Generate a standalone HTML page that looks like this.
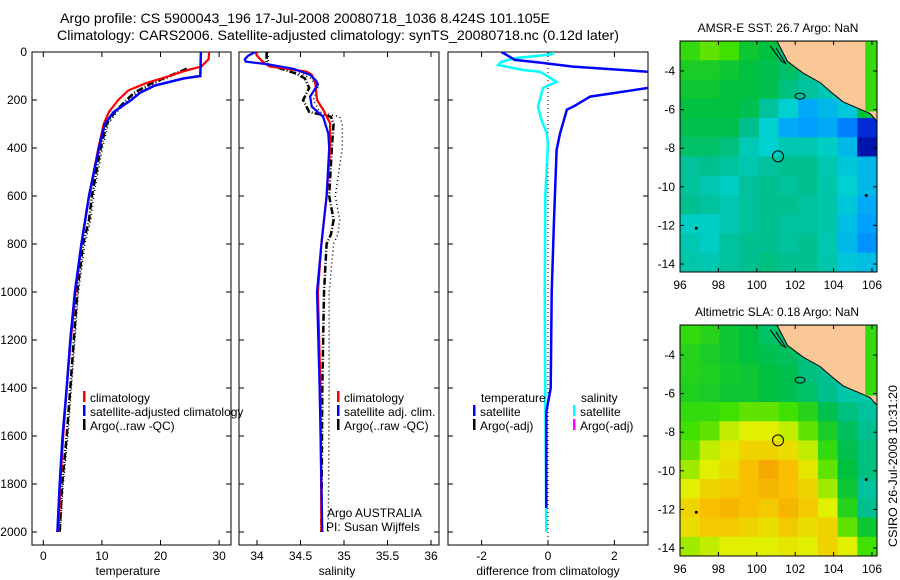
<!DOCTYPE html>
<html><head><meta charset="utf-8"><style>
html,body{margin:0;padding:0;background:#fff;}
svg{display:block;font-family:"Liberation Sans",sans-serif;}
</style></head><body>
<svg id="fig" width="900" height="580" viewBox="0 0 900 580" xmlns="http://www.w3.org/2000/svg">
<text x="60" y="23" font-size="14" textLength="490" lengthAdjust="spacingAndGlyphs">Argo profile: CS 5900043_196 17-Jul-2008 20080718_1036 8.424S 101.105E</text>
<text x="57" y="40" font-size="14" textLength="562" lengthAdjust="spacingAndGlyphs">Climatology: CARS2006. Satellite-adjusted climatology: synTS_20080718.nc (0.12d later)</text>
<text x="778" y="32" font-size="12" text-anchor="middle">AMSR-E SST: 26.7 Argo: NaN</text>
<text x="777" y="316" font-size="12" text-anchor="middle">Altimetric SLA: 0.18 Argo: NaN</text>
<text x="128" y="575" font-size="12" text-anchor="middle">temperature</text>
<text x="337" y="575" font-size="12" text-anchor="middle">salinity</text>
<text x="548" y="575" font-size="12" text-anchor="middle">difference from climatology</text>
<text transform="translate(897,547) rotate(-90)" font-size="12" textLength="162" lengthAdjust="spacingAndGlyphs">CSIRO 26-Jul-2008 10:31:20</text>
<text x="327" y="517" font-size="12">Argo AUSTRALIA</text>
<text x="326" y="531" font-size="12">PI: Susan Wijffels</text>
</svg>
<script>
// ---- data ----
const depthTicks=[0,200,400,600,800,1000,1200,1400,1600,1800,2000];
const tempTicks=[0,10,20,30];
const salTicks=[34,34.5,35,35.5,36];
const salTickLabels=['34','34.5','35','35.5','36'];
const diffTicks=[-2,0,2];
const tClimDepth=[0,30,60,80,100,130,160,200,250,300,400,600,800,1000,1200,1400,1600,1800,2000];
const tClimVal=[28.3,28.2,27,24,21.5,17.5,14.5,12.8,11.2,10.3,9.4,7.8,6.5,5.5,4.7,4.0,3.4,2.9,2.6];
const tSatDepth=[0,100,110,140,170,200,250,300,400,600,800,1000,1200,1400,1600,1800,2000];
const tSatVal=[26.9,26.8,24,19,16.5,15,12,10.5,9.5,7.8,6.5,5.4,4.6,4.0,3.3,2.8,2.4];
const tArgoDepth=[70,100,130,170,200,250,300,400,600,700,800,1000,1400,1600,1800,2000];
const tArgoVal=[24.5,21.5,18.5,15.5,14.2,12.2,10.8,9.8,8.3,7.8,6.8,5.8,4.6,4.0,3.2,2.8];
const tArgoRawVal=[25,22,19,16,14.6,12.6,11.1,10.1,8.6,8.1,7.1,6.0,4.8,4.2,3.4,2.9];
const sClimDepth=[0,15,35,50,61,70,82,95,130,200,240,297,400,600,800,1000,1400,2000];
const sClimVal=[33.98,34.0,34.05,34.1,34.15,34.35,34.57,34.63,34.67,34.69,34.76,34.84,34.84,34.80,34.74,34.70,34.73,34.74];
const sSatDepth=[0,15,30,40,50,70,95,120,135,186,228,270,340,400,600,800,1000,1400,2000];
const sSatVal=[33.98,33.9,33.86,33.87,34.1,34.42,34.61,34.68,34.7,34.61,34.63,34.76,34.82,34.83,34.80,34.74,34.69,34.72,34.75];
const sArgoDepth=[0,50,90,110,150,200,250,270,300,400,600,700,760,800,1000,1400,2000];
const sArgoVal=[34.11,34.11,34.45,34.55,34.6,34.53,34.6,34.85,34.88,34.86,34.83,34.88,34.85,34.8,34.77,34.75,34.74];
const sArgoRawDepth=[0,50,90,110,150,200,250,270,300,400,600,700,760,800,1000,1400,2000];
const sArgoRawVal=[34.13,34.13,34.5,34.62,34.7,34.65,34.72,34.95,34.98,34.98,34.9,34.95,34.93,34.88,34.83,34.83,34.82];
const dTempDepth=[0,20,33,45,61,82,100,130,150,186,228,240,340,408,700,1000,1400,1500,1900];
const dTempVal=[-1.4,-1.15,-1.0,-0.2,0.75,3.0,5.0,4.0,3.0,1.27,0.76,0.57,0.36,0.26,0.18,0.11,0.08,-0.05,-0.05];
const dSalDepth=[0,10,25,40,54,75,82,124,150,228,283,338,380,600,1000,1500,2000];
const dSalVal=[0.17,0.1,-0.95,-1.4,-1.5,-0.75,-0.24,0.26,-0.15,-0.3,-0.2,-0.04,0.0,-0.08,-0.1,-0.08,-0.05];
const lonTicks=[96,98,100,102,104,106];
const latTicks=[-4,-6,-8,-10,-12,-14];
const sstGrid=[
[.68,.72,.70,.62,.60,.50,.50,.50,.60,.70],
[.64,.64,.62,.60,.58,.55,.50,.50,.55,.68],
[.62,.62,.60,.60,.58,.52,.48,.45,.48,.65],
[.60,.60,.60,.58,.48,.40,.32,.35,.38,.60],
[.58,.58,.58,.50,.40,.32,.30,.32,.25,.10],
[.55,.55,.52,.44,.40,.45,.45,.42,.35,.05],
[.48,.50,.48,.45,.48,.50,.50,.45,.38,.35],
[.48,.45,.42,.48,.50,.48,.50,.46,.40,.35],
[.50,.48,.45,.48,.50,.50,.48,.46,.38,.32],
[.42,.42,.45,.48,.50,.48,.48,.46,.36,.30],
[.45,.42,.48,.50,.50,.48,.50,.45,.35,.28],
[.46,.45,.48,.50,.52,.50,.50,.46,.38,.36]];
const slaGrid=[
[.68,.66,.62,.60,.55,.52,.50,.50,.55,.65],
[.66,.64,.62,.60,.58,.56,.52,.50,.50,.60],
[.66,.65,.63,.62,.60,.58,.52,.50,.48,.55],
[.65,.64,.62,.62,.60,.58,.55,.50,.46,.46],
[.68,.68,.70,.72,.72,.70,.66,.58,.52,.48],
[.70,.72,.78,.80,.80,.78,.72,.64,.56,.50],
[.72,.78,.82,.86,.86,.84,.78,.68,.58,.52],
[.76,.80,.84,.90,.95,.90,.82,.72,.60,.52],
[.80,.86,.88,.90,.92,.90,.86,.76,.62,.48],
[.86,.90,.92,.90,.88,.92,.88,.80,.66,.50],
[.84,.88,.88,.86,.84,.88,.84,.86,.72,.62],
[.76,.78,.80,.80,.80,.82,.80,.86,.80,.70]];
const landLon=[101.05,101.6,102.4,103.3,104.0,104.5,105.2,105.9,106.26,106.26];
const landLat=[-2.45,-3.5,-4.1,-4.6,-5.2,-5.6,-5.9,-6.2,-6.6,-2.45];
const argoLon=101.105, argoLat=-8.424;

// ---- helpers ----
const NS='http://www.w3.org/2000/svg';
const svg=document.getElementById('fig');
function mk(tag,attrs,parent){const e=document.createElementNS(NS,tag);for(const k in attrs)e.setAttribute(k,attrs[k]);(parent||svg).appendChild(e);return e;}
const yD=d=>52+d*0.24;
const p1x=t=>43.3+t*5.86;
const p2x=s=>257+(s-34)*87;
const p3x=v=>548+v*33.2;
const panels=[{x0:32,x1:231,fx:p1x,ticks:tempTicks,labels:tempTicks.map(String),name:'temperature'},
{x0:239,x1:439,fx:p2x,ticks:salTicks,labels:salTickLabels,name:'salinity'},
{x0:448,x1:648,fx:p3x,ticks:diffTicks,labels:['-2','0','2'],name:'difference'}];
const yTop=52,yBot=545;

// clip paths
const defs=mk('defs',{});
panels.forEach((p,i)=>{const c=mk('clipPath',{id:'clip'+i},defs);mk('rect',{x:p.x0,y:yTop,width:p.x1-p.x0,height:yBot-yTop},c);});

function line(xs,ds,fx,color,w,dash,clip,name){
  const pts=xs.map((v,i)=>fx(v).toFixed(1)+','+yD(ds[i]).toFixed(1)).join(' ');
  const el=mk('polyline',{points:pts,fill:'none',stroke:color,'stroke-width':w,'clip-path':'url(#'+clip+')'});
  if(dash)el.setAttribute('stroke-dasharray',dash);
  
  
}

panels.forEach((p,i)=>{
  const fr=mk('rect',{x:p.x0,y:yTop,width:p.x1-p.x0,height:yBot-yTop,fill:'none',stroke:'#000','stroke-width':1});
  
  
  depthTicks.forEach(d=>{
    mk('line',{x1:p.x0,x2:p.x0+5,y1:yD(d),y2:yD(d),stroke:'#000'});
    mk('line',{x1:p.x1,x2:p.x1-5,y1:yD(d),y2:yD(d),stroke:'#000'});
    if(i===0){const t=mk('text',{x:27,y:yD(d)+4,'font-size':12,'text-anchor':'end'});t.textContent=d;
      
      }
  });
  p.ticks.forEach((v,j)=>{
    const x=p.fx(v);
    mk('line',{x1:x,x2:x,y1:yBot,y2:yBot-5,stroke:'#000'});
    mk('line',{x1:x,x2:x,y1:yTop,y2:yTop+5,stroke:'#000'});
    const t=mk('text',{x:x,y:yBot+15,'font-size':12,'text-anchor':'middle'});t.textContent=p.labels[j];
    
    
  });
});

// panel 1
line(tArgoRawVal,tArgoDepth,p1x,'#000',1.5,'1,3','clip0','temp-argo-raw-line');
line(tArgoVal,tArgoDepth,p1x,'#000',2.5,'7,2,1,2','clip0','temp-argo-line');
line(tClimVal,tClimDepth,p1x,'#f00',2.2,null,'clip0','temp-climatology-line');
line(tSatVal,tSatDepth,p1x,'#00f',2.5,null,'clip0','temp-satellite-line');
// panel 2
line(sArgoRawVal,sArgoRawDepth,p2x,'#000',1.5,'1,3','clip1','sal-argo-raw-line');
line(sArgoVal,sArgoDepth,p2x,'#000',2.5,'7,2,1,2','clip1','sal-argo-line');
line(sClimVal,sClimDepth,p2x,'#f00',2.2,null,'clip1','sal-climatology-line');
line(sSatVal,sSatDepth,p2x,'#00f',2.2,null,'clip1','sal-satellite-line');
// panel 3
const zl=mk('line',{x1:p3x(0),x2:p3x(0),y1:yTop,y2:yBot,stroke:'#000','stroke-dasharray':'1,3'});


line(dSalVal,dSalDepth,p3x,'#0ff',2.5,null,'clip2','sal-diff-satellite-line');
line(dTempVal,dTempDepth,p3x,'#00f',2.5,null,'clip2','temp-diff-satellite-line');

// legends
function legend(x,y,color,label,name){
  const b=mk('rect',{x:x,y:y-11,width:2.5,height:11,fill:color});
  
  
  const t=mk('text',{x:x+7,y:y,'font-size':12});t.textContent=label;
  
  
}
legend(83,402,'#f00','climatology','legend-temp-climatology');
legend(83,416,'#00f','satellite-adjusted climatology','legend-temp-satellite');
legend(83,430,'#000','Argo(..raw -QC)','legend-temp-argo');
legend(337,402,'#f00','climatology','legend-sal-climatology');
legend(337,416,'#00f','satellite adj. clim.','legend-sal-satellite');
legend(337,430,'#000','Argo(..raw -QC)','legend-sal-argo');
{const t=mk('text',{x:481,y:402,'font-size':12});t.textContent='temperature';}
{const t=mk('text',{x:581,y:402,'font-size':12});t.textContent='salinity';}
legend(473,416,'#00f','satellite','legend-diff-temp-satellite');
legend(473,430,'#000','Argo(-adj)','legend-diff-temp-argo');
legend(573,416,'#0ff','satellite','legend-diff-sal-satellite');
legend(573,430,'#f0f','Argo(-adj)','legend-diff-sal-argo');

// colormap
const cmStops=[[0,[0,0,128]],[0.15,[0,64,255]],[0.3,[0,160,255]],[0.4,[0,208,208]],[0.5,[0,192,144]],[0.6,[0,192,64]],[0.7,[64,224,0]],[0.8,[224,240,0]],[0.9,[248,192,0]],[1,[240,144,0]]];
function cmap(v){v=Math.max(0,Math.min(1,v));for(let i=1;i<cmStops.length;i++){if(v<=cmStops[i][0]){const a=cmStops[i-1],b=cmStops[i];const f=(v-a[0])/(b[0]-a[0]);const c=a[1].map((x,k)=>Math.round(x+(b[1][k]-x)*f));return 'rgb('+c.join(',')+')';}}return 'rgb(240,144,0)';}

function drawMap(grid,top,name){
  const x0=680,x1=877,lonX=l=>680+(l-96)*19.2;
  const latY=la=>top+30+(-4-la)*19.3;
  const bot=top+231;
  const g=mk('g',{});
  
  
  const cid='mclip'+top;const c=mk('clipPath',{id:cid},defs);mk('rect',{x:x0,y:top,width:x1-x0,height:bot-top},c);
  g.setAttribute('clip-path','url(#'+cid+')');
  const nr=grid.length,nc=grid[0].length;
  const cw=(x1-x0)/nc,ch=(bot-top)/nr;
  grid.forEach((row,r)=>row.forEach((v,k)=>{
    const cell=mk('rect',{x:(x0+k*cw).toFixed(1),y:(top+r*ch).toFixed(1),width:(cw+0.6).toFixed(1),height:(ch+0.6).toFixed(1),fill:cmap(v)},g);
    
    
  }));
  const pts=landLon.map((l,i)=>lonX(l).toFixed(1)+','+latY(landLat[i]).toFixed(1)).join(' ');
  const land=mk('polygon',{points:pts,fill:'#fac896',stroke:'#000','stroke-width':1},g);
  
  
  mk('rect',{x:lonX(105.65),y:top,width:lonX(106.26)-lonX(105.65),height:latY(-6.1)-top,fill:cmap(0.68)},g);
  mk('polyline',{points:[[101.0,-2.8],[101.5,-3.6],[101.3,-3.5],[100.7,-2.7]].map(p=>lonX(p[0])+','+latY(p[1])).join(' '),fill:'none',stroke:'#000'},g);
  mk('ellipse',{cx:lonX(102.25),cy:latY(-5.3),rx:5,ry:3,fill:'none',stroke:'#000'},g);
  mk('circle',{cx:lonX(96.85),cy:latY(-12.15),r:1.5,fill:'#000'},g);
  mk('circle',{cx:lonX(105.7),cy:latY(-10.45),r:1.5,fill:'#000'},g);
  const ac=mk('circle',{cx:lonX(argoLon),cy:latY(argoLat),r:5.5,fill:'none',stroke:'#000','stroke-width':1},g);
  
  
  const fr=mk('rect',{x:x0,y:top,width:x1-x0,height:bot-top,fill:'none',stroke:'#000'});
  
  
  lonTicks.forEach(l=>{const x=lonX(l);mk('line',{x1:x,x2:x,y1:bot,y2:bot-4,stroke:'#000'});mk('line',{x1:x,x2:x,y1:top,y2:top+4,stroke:'#000'});
    const t=mk('text',{x:x,y:bot+17,'font-size':12,'text-anchor':'middle'});t.textContent=l;
    
    });
  latTicks.forEach(la=>{const y=latY(la);mk('line',{x1:x0,x2:x0+4,y1:y,y2:y,stroke:'#000'});mk('line',{x1:x1,x2:x1-4,y1:y,y2:y,stroke:'#000'});
    const t=mk('text',{x:x0-5,y:y+4,'font-size':12,'text-anchor':'end'});t.textContent=la;
    
    });
}
drawMap(sstGrid,41,'sst-map');
drawMap(slaGrid,325,'sla-map');
</script>
</body></html>
